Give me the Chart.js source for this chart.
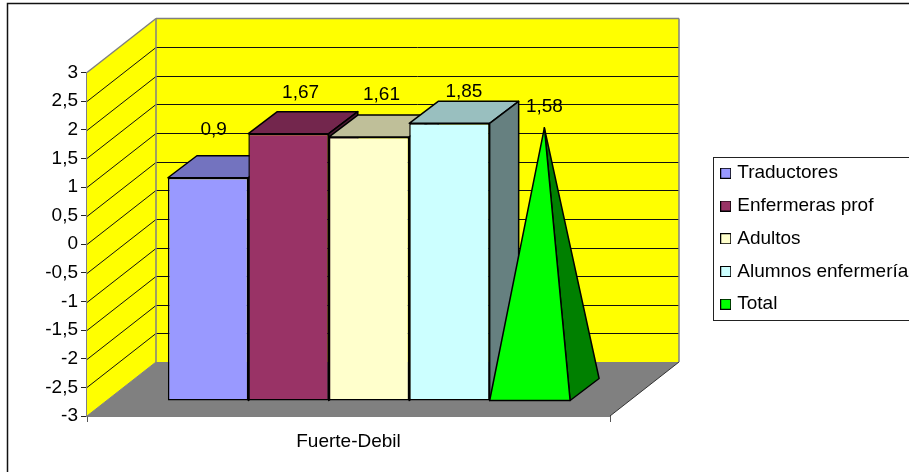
<!DOCTYPE html>
<html>
<head>
<meta charset="utf-8">
<script src="https://cdn.jsdelivr.net/npm/chart.js@4/dist/chart.umd.min.js"></script>
<style>
html,body{margin:0;padding:0;background:#fff;overflow:hidden}
canvas{display:block}
</style>
</head>
<body>
<canvas id="chart" width="909" height="472"></canvas>
<script>
const categories = ['Fuerte-Debil'];
const seriesNames = ['Traductores', 'Enfermeras prof', 'Adultos', 'Alumnos enfermería', 'Total'];
const seriesValues = [0.9, 1.67, 1.61, 1.85, 1.58];
const frontColors = ['#9999FF', '#993366', '#FFFFCC', '#CCFFFF', '#00FF00'];
const topColors = ['#7373BF', '#73264D', '#BFBF99', '#99BFBF', '#00BF00'];
const sideColors = ['#4D4D80', '#4D1A33', '#808066', '#668080', '#008000'];
const pyramidSeries = [4];
const axisMin = -3;
const axisMax = 3;
const axisStep = 0.5;

// Oblique projection of the 3D box
const WALL = {dx: 69, dy: -54};
const BAR_SHIFT = {dx: 20.5, dy: -15};
const BAR_DEPTH = {dx: 29, dy: -22};
// Hand placement of the value labels, relative to the top centre of each front face
const LABEL_SHIFT = [[5.5, -48], [12, -41], [12.5, -42], [14.5, -32], [14.5, -32]];
const FONT = '"Liberation Sans", Arial, sans-serif';
const FONT_SIZE = 19;
const MARKER_SIZE = 11;

const decimalComma = v => String(v).replace('.', ',');

function poly(ctx, pts, fill, stroke, width) {
  ctx.beginPath();
  pts.forEach((p, i) => i ? ctx.lineTo(p[0], p[1]) : ctx.moveTo(p[0], p[1]));
  ctx.closePath();
  if (fill) { ctx.fillStyle = fill; ctx.fill(); }
  if (stroke) { ctx.strokeStyle = stroke; ctx.lineWidth = width; ctx.lineJoin = 'round'; ctx.stroke(); }
}

function segment(ctx, x0, y0, x1, y1, color, width) {
  ctx.beginPath();
  ctx.moveTo(x0, y0);
  ctx.lineTo(x1, y1);
  ctx.strokeStyle = color;
  ctx.lineWidth = width;
  ctx.stroke();
}

// Square legend swatch with a dark outline
function legendMarker(color) {
  const c = document.createElement('canvas');
  c.width = MARKER_SIZE;
  c.height = MARKER_SIZE;
  const g = c.getContext('2d');
  g.fillStyle = color;
  g.fillRect(0, 0, MARKER_SIZE, MARKER_SIZE);
  g.strokeStyle = '#000';
  g.lineWidth = 1;
  g.strokeRect(0.5, 0.5, MARKER_SIZE - 1, MARKER_SIZE - 1);
  return c;
}

const box3d = {
  id: 'box3d',
  afterUpdate(chart) {
    // The legend sits to the right of the box, running past the canvas edge
    const lg = chart.legend;
    lg.left = 710; lg.right = 909; lg.top = 150; lg.bottom = 330;
    lg.adjustHitBoxes();
  },
  beforeDraw(chart) {
    const {ctx, width, height} = chart;
    ctx.save();
    ctx.fillStyle = '#fff';
    ctx.fillRect(0, 0, width, height);
    ctx.strokeStyle = '#111';
    ctx.lineWidth = 1.5;
    ctx.strokeRect(7.5, 3.5, width + 20, height + 20);
    ctx.fillStyle = '#fff';
    ctx.strokeStyle = '#222';
    ctx.lineWidth = 1;
    ctx.fillRect(713.5, 157.5, width, 163);
    ctx.strokeRect(713.5, 157.5, width, 163);
    ctx.restore();
  },
  beforeDatasetsDraw(chart) {
    const {ctx, chartArea: a, scales: {y}} = chart;
    const dx = WALL.dx, dy = WALL.dy;
    const top = y.getPixelForValue(axisMax), bot = y.getPixelForValue(axisMin);
    ctx.save();
    // Side wall, back wall and floor
    poly(ctx, [[a.left, top], [a.left + dx, top + dy], [a.left + dx, bot + dy], [a.left, bot]], '#FFFF00');
    poly(ctx, [[a.left + dx, top + dy], [a.right + dx, top + dy], [a.right + dx, bot + dy], [a.left + dx, bot + dy]], '#FFFF00');
    poly(ctx, [[a.left, bot], [a.left + dx, bot + dy], [a.right + dx, bot + dy], [a.right, bot]], '#808080');
    // Grid lines follow the value scale around the two walls
    y.ticks.forEach(t => {
      if (t.value <= axisMin || t.value >= axisMax) return;
      const py = Math.round(y.getPixelForValue(t.value)) + 0.5;
      ctx.beginPath();
      ctx.moveTo(a.left, py);
      ctx.lineTo(a.left + dx, py + dy);
      ctx.lineTo(a.right + dx, py + dy);
      ctx.strokeStyle = '#111';
      ctx.lineWidth = 1;
      ctx.stroke();
    });
    // Wall outlines
    const gray = '#808080';
    segment(ctx, a.left, top, a.left + dx, top + dy, gray, 1.5);
    segment(ctx, a.left + dx, top + dy, a.right + dx, top + dy, gray, 1.5);
    segment(ctx, a.left + dx, top + dy, a.left + dx, bot + dy, gray, 1.5);
    segment(ctx, a.right + dx, top + dy, a.right + dx, bot + dy, gray, 1.5);
    segment(ctx, a.left, bot, a.left + dx, bot + dy, gray, 1);
    segment(ctx, a.right, bot, a.right + dx, bot + dy, '#333', 1);

    // Receding faces come first so every front face covers its left neighbour's side
    ctx.translate(BAR_SHIFT.dx, BAR_SHIFT.dy);
    chart.data.datasets.forEach((ds, i) => {
      const el = chart.getDatasetMeta(i).data[0];
      const l = el.x - el.width / 2, r = el.x + el.width / 2;
      const t = el.y, b = el.base;
      const ddx = BAR_DEPTH.dx, ddy = BAR_DEPTH.dy;
      if (pyramidSeries.includes(i)) {
        const ax = el.x + ddx / 2, ay = t + ddy / 2;
        poly(ctx, [[r, b], [r + ddx, b + ddy], [ax, ay]], sideColors[i], '#000', 1.5);
      } else {
        poly(ctx, [[l, t], [l + ddx, t + ddy], [r + ddx, t + ddy], [r, t]], topColors[i], '#000', 1.5);
        poly(ctx, [[r, t], [r + ddx, t + ddy], [r + ddx, b + ddy], [r, b]], sideColors[i], '#000', 1.5);
      }
    });
    ctx.restore();
  },
  beforeDatasetDraw(chart, args) {
    const {ctx} = chart;
    ctx.save();
    ctx.translate(BAR_SHIFT.dx, BAR_SHIFT.dy);
    if (pyramidSeries.includes(args.index)) {
      const el = args.meta.data[0];
      const l = el.x - el.width / 2, r = el.x + el.width / 2;
      const ax = el.x + BAR_DEPTH.dx / 2, ay = el.y + BAR_DEPTH.dy / 2;
      poly(ctx, [[l, el.base], [r, el.base], [ax, ay]], frontColors[args.index], '#000', 1.5);
      ctx.restore();
      return false;
    }
  },
  afterDatasetDraw(chart) {
    chart.ctx.restore();
  },
  afterDatasetsDraw(chart) {
    const {ctx} = chart;
    ctx.save();
    ctx.font = FONT_SIZE + 'px ' + FONT;
    ctx.fillStyle = '#000';
    ctx.textAlign = 'center';
    ctx.textBaseline = 'middle';
    seriesValues.forEach((v, i) => {
      const el = chart.getDatasetMeta(i).data[0];
      const sx = LABEL_SHIFT[i][0], sy = LABEL_SHIFT[i][1];
      ctx.fillText(decimalComma(v), el.x + BAR_SHIFT.dx + sx, el.y + BAR_SHIFT.dy + sy);
    });
    ctx.restore();
  }
};

new Chart(document.getElementById('chart'), {
  type: 'bar',
  data: {
    labels: categories,
    datasets: seriesNames.map((name, i) => ({
      label: name,
      data: [seriesValues[i]],
      base: axisMin,
      backgroundColor: frontColors[i],
      borderColor: '#000',
      borderWidth: 1.5,
      borderSkipped: false,
      clip: false
    }))
  },
  options: {
    responsive: false,
    animation: false,
    events: [],
    layout: {padding: {left: 0, top: 72.5, right: 299, bottom: 0}},
    datasets: {bar: {barPercentage: 1, categoryPercentage: 0.769}},
    scales: {
      x: {
        afterFit(s) { s.height = 56; },
        grid: {drawOnChartArea: false, drawTicks: true, tickLength: 6, tickColor: '#555'},
        border: {color: '#000', width: 1.5},
        ticks: {color: '#000', padding: 8, font: {family: FONT, size: FONT_SIZE}}
      },
      y: {
        min: axisMin,
        max: axisMax,
        afterFit(s) { s.width = 87; },
        grid: {drawOnChartArea: false, drawTicks: true, tickLength: 6, tickColor: '#222'},
        border: {color: '#808080', width: 1.5},
        ticks: {
          stepSize: axisStep,
          color: '#000',
          padding: 3,
          font: {family: FONT, size: FONT_SIZE},
          callback: decimalComma
        }
      }
    },
    plugins: {
      tooltip: {enabled: false},
      title: {display: false},
      legend: {
        position: 'chartArea',
        align: 'start',
        labels: {
          color: '#000',
          font: {family: FONT, size: FONT_SIZE, lineHeight: 1},
          padding: 13.75,
          boxHeight: 11,
          usePointStyle: true,
          pointStyleWidth: 4,
          generateLabels(chart) {
            return Chart.defaults.plugins.legend.labels.generateLabels(chart).map((item, i) => {
              item.pointStyle = legendMarker(frontColors[i]);
              return item;
            });
          }
        }
      }
    }
  },
  plugins: [box3d]
});
</script>
</body>
</html>
